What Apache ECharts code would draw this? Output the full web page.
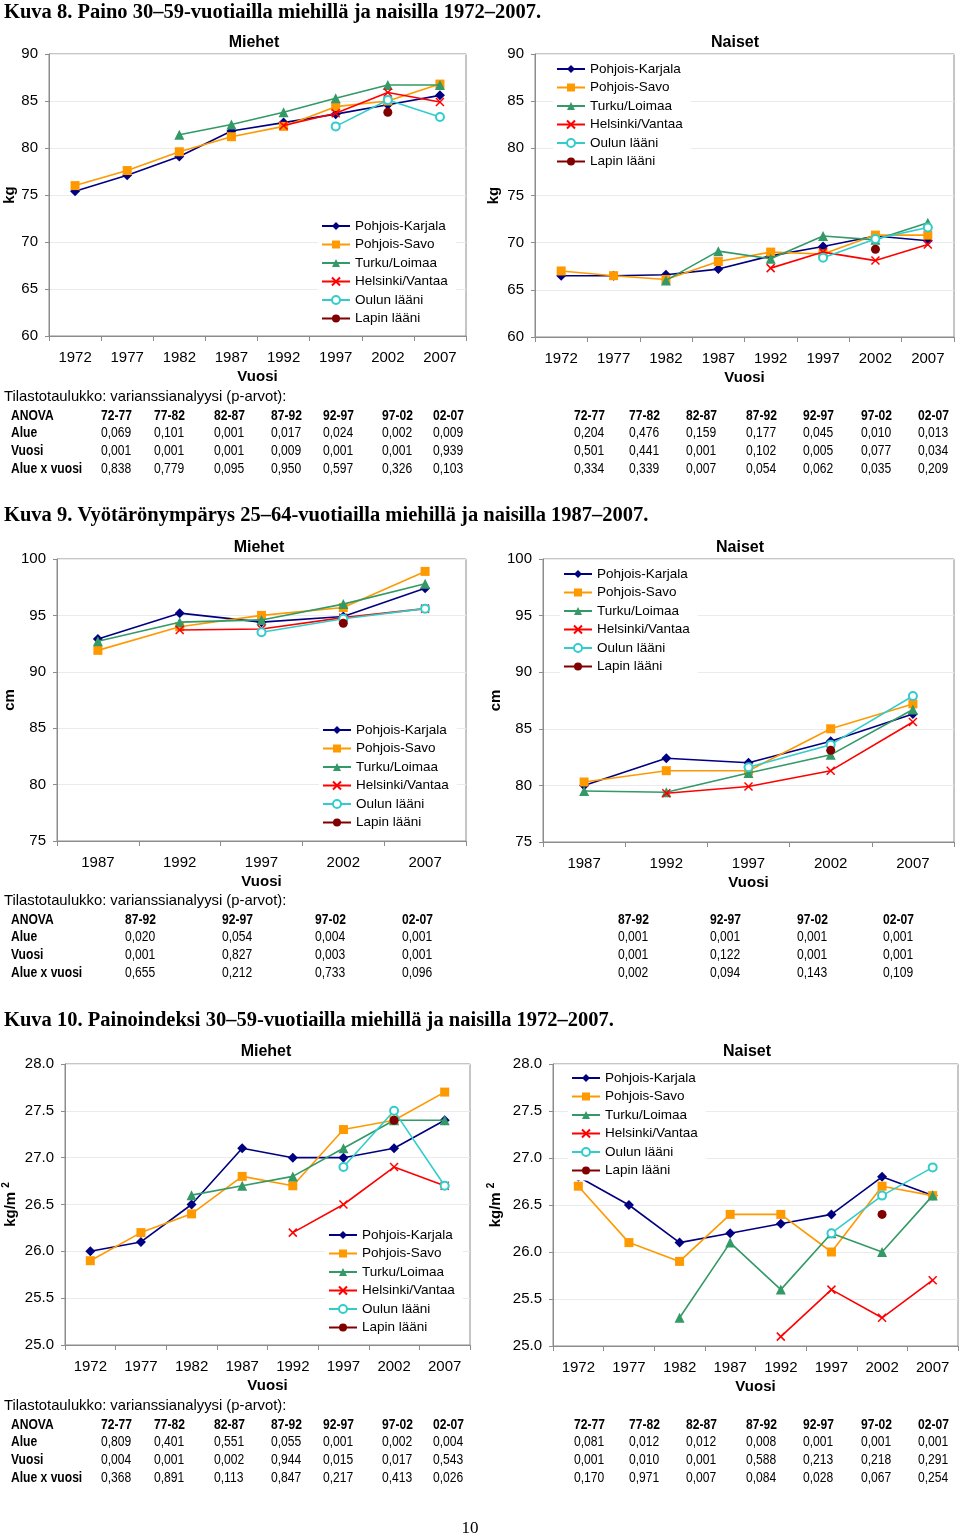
<!DOCTYPE html>
<html>
<head>
<meta charset="utf-8">
<script src="https://cdn.jsdelivr.net/npm/echarts@6/dist/echarts.min.js"></script>
<style>
html,body{margin:0;padding:0;background:#fff;}
#c{width:960px;height:1537px;}
</style>
</head>
<body>
<div id="c"></div>
<script>
// ---------- categories ----------
const years72 = ['1972','1977','1982','1987','1992','1997','2002','2007'];
const years87 = ['1987','1992','1997','2002','2007'];
const regions = ['Pohjois-Karjala','Pohjois-Savo','Turku/Loimaa','Helsinki/Vantaa','Oulun lääni','Lapin lääni'];

// ---------- Kuva 8: paino (kg) ----------
const weightMenPK = [75.4,77.1,79.1,81.8,82.7,83.6,84.6,85.6];
const weightMenPS = [76.0,77.6,79.6,81.2,82.3,84.4,85.0,86.8];
const weightMenTL = [null,null,81.4,82.5,83.8,85.3,86.7,86.7];
const weightMenHV = [null,null,null,null,82.4,83.7,85.9,84.9];
const weightMenOL = [null,null,null,null,null,82.3,85.1,83.3];
const weightMenLL = [null,null,null,null,null,null,83.8,null];

const weightWomenPK = [66.5,66.5,66.6,67.2,68.6,69.6,70.7,70.2];
const weightWomenPS = [67.0,66.5,66.1,68.0,69.0,68.8,70.8,70.8];
const weightWomenTL = [null,null,66.0,69.1,68.3,70.7,70.3,72.1];
const weightWomenHV = [null,null,null,null,67.3,69.0,68.1,69.8];
const weightWomenOL = [null,null,null,null,null,68.4,70.4,71.6];
const weightWomenLL = [null,null,null,null,null,null,69.3,null];

// ---------- Kuva 9: vyötärönympärys (cm) ----------
const waistMenPK = [92.9,95.2,94.4,94.9,97.4];
const waistMenPS = [91.9,94.0,95.0,95.7,98.9];
const waistMenTL = [92.7,94.4,94.6,96.0,97.8];
const waistMenHV = [null,93.7,93.8,94.8,95.6];
const waistMenOL = [null,null,93.5,94.7,95.6];
const waistMenLL = [null,null,null,94.3,null];

const waistWomenPK = [80.0,82.4,82.0,83.9,86.3];
const waistWomenPS = [80.3,81.3,81.3,85.0,87.2];
const waistWomenTL = [79.5,79.4,81.1,82.7,86.7];
const waistWomenHV = [null,79.3,79.9,81.3,85.6];
const waistWomenOL = [null,null,81.6,83.6,87.9];
const waistWomenLL = [null,null,null,83.1,null];

// ---------- Kuva 10: painoindeksi (kg/m2) ----------
const bmiMenPK = [26.0,26.1,26.5,27.1,27.0,27.0,27.1,27.4];
const bmiMenPS = [25.9,26.2,26.4,26.8,26.7,27.3,27.4,27.7];
const bmiMenTL = [null,null,26.6,26.7,26.8,27.1,27.4,27.4];
const bmiMenHV = [null,null,null,null,26.2,26.5,26.9,26.7];
const bmiMenOL = [null,null,null,null,null,26.9,27.5,26.7];
const bmiMenLL = [null,null,null,null,null,null,27.4,null];

const bmiWomenPK = [26.8,26.5,26.1,26.2,26.3,26.4,26.8,26.6];
const bmiWomenPS = [26.7,26.1,25.9,26.4,26.4,26.0,26.7,26.6];
const bmiWomenTL = [null,null,25.3,26.1,25.6,26.2,26.0,26.6];
const bmiWomenHV = [null,null,null,null,25.1,25.6,25.3,25.7];
const bmiWomenOL = [null,null,null,null,null,26.2,26.6,26.9];
const bmiWomenLL = [null,null,null,null,null,null,26.4,null];

// ---------- ANOVA tables (p-arvot) ----------
const rowLabels = ['Alue','Vuosi','Alue x vuosi'];
const periods72 = ['72-77','77-82','82-87','87-92','92-97','97-02','02-07'];
const periods87 = ['87-92','92-97','97-02','02-07'];

const anova8Men = [
  ['0,069','0,101','0,001','0,017','0,024','0,002','0,009'],
  ['0,001','0,001','0,001','0,009','0,001','0,001','0,939'],
  ['0,838','0,779','0,095','0,950','0,597','0,326','0,103']];
const anova8Women = [
  ['0,204','0,476','0,159','0,177','0,045','0,010','0,013'],
  ['0,501','0,441','0,001','0,102','0,005','0,077','0,034'],
  ['0,334','0,339','0,007','0,054','0,062','0,035','0,209']];
const anova9Men = [
  ['0,020','0,054','0,004','0,001'],
  ['0,001','0,827','0,003','0,001'],
  ['0,655','0,212','0,733','0,096']];
const anova9Women = [
  ['0,001','0,001','0,001','0,001'],
  ['0,001','0,122','0,001','0,001'],
  ['0,002','0,094','0,143','0,109']];
const anova10Men = [
  ['0,809','0,401','0,551','0,055','0,001','0,002','0,004'],
  ['0,004','0,001','0,002','0,944','0,015','0,017','0,543'],
  ['0,368','0,891','0,113','0,847','0,217','0,413','0,026']];
const anova10Women = [
  ['0,081','0,012','0,012','0,008','0,001','0,001','0,001'],
  ['0,001','0,010','0,001','0,588','0,213','0,218','0,291'],
  ['0,170','0,971','0,007','0,084','0,028','0,067','0,254']];

const captions = [
  'Kuva 8. Paino 30–59-vuotiailla miehillä ja naisilla 1972–2007.',
  'Kuva 9. Vyötärönympärys 25–64-vuotiailla miehillä ja naisilla 1987–2007.',
  'Kuva 10. Painoindeksi 30–59-vuotiailla miehillä ja naisilla 1972–2007.'];

// ---------- styles ----------
const SANS = '"Liberation Sans", Arial, sans-serif';
const SERIF = '"Liberation Serif", "Times New Roman", serif';
const NARROW_SCALE = 0.78;
const colors = ['#000080','#FF9900','#339966','#FF0000','#33CCCC','#800000'];
const symbols = ['diamond','rect','triangle','path://M0,0L10,10M10,0L0,10','emptyCircle','circle'];
const symSizes = [10,9,10,8,8,9];

const panels = [
  {cats:years72, data:[weightMenPK,weightMenPS,weightMenTL,weightMenHV,weightMenOL,weightMenLL],
   min:60,max:90,interval:5,dec:0,unit:'kg',title:'Miehet',
   grid:{left:49,top:54,width:417,height:282}, nameGap:31, titleX:254, titleY:43,
   legend:{left:321,top:228}},
  {cats:years72, data:[weightWomenPK,weightWomenPS,weightWomenTL,weightWomenHV,weightWomenOL,weightWomenLL],
   min:60,max:90,interval:5,dec:0,unit:'kg',title:'Naiset',
   grid:{left:535,top:54,width:419,height:283}, nameGap:34, titleX:735, titleY:43,
   legend:{left:556,top:71}},
  {cats:years87, data:[waistMenPK,waistMenPS,waistMenTL,waistMenHV,waistMenOL,waistMenLL],
   min:75,max:100,interval:5,dec:0,unit:'cm',title:'Miehet',
   grid:{left:57,top:559,width:409,height:282}, nameGap:34, titleX:259, titleY:548,
   legend:{left:322,top:732}},
  {cats:years87, data:[waistWomenPK,waistWomenPS,waistWomenTL,waistWomenHV,waistWomenOL,waistWomenLL],
   min:75,max:100,interval:5,dec:0,unit:'cm',title:'Naiset',
   grid:{left:543,top:559,width:411,height:283}, nameGap:35, titleX:740, titleY:548,
   legend:{left:563,top:576}},
  {cats:years72, data:[bmiMenPK,bmiMenPS,bmiMenTL,bmiMenHV,bmiMenOL,bmiMenLL],
   min:25,max:28,interval:0.5,dec:1,unit:'kgm2',title:'Miehet',
   grid:{left:65,top:1064,width:405,height:281}, nameGap:44, titleX:266, titleY:1052,
   legend:{left:328,top:1237}},
  {cats:years72, data:[bmiWomenPK,bmiWomenPS,bmiWomenTL,bmiWomenHV,bmiWomenOL,bmiWomenLL],
   min:25,max:28,interval:0.5,dec:1,unit:'kgm2',title:'Naiset',
   grid:{left:553,top:1064,width:405,height:282}, nameGap:47, titleX:747, titleY:1052,
   legend:{left:571,top:1080}}
];

const grids = [], xAxes = [], yAxes = [], series = [], legends = [], graphics = [];
const LEG_PAD = 3;

panels.forEach((p, i) => {
  grids.push(Object.assign({show:true, borderColor:'#8c8c8c', borderWidth:1, backgroundColor:'transparent'}, p.grid));
  xAxes.push({
    type:'category', gridIndex:i, data:p.cats, boundaryGap:true,
    axisLine:{show:true, lineStyle:{color:'#8c8c8c', width:1}},
    axisTick:{show:true, length:5, lineStyle:{color:'#8c8c8c'}},
    axisLabel:{color:'#000', fontFamily:SANS, fontSize:15, margin:14},
    splitLine:{show:false},
    name:'Vuosi', nameLocation:'middle', nameGap:33,
    nameTextStyle:{color:'#000', fontFamily:SANS, fontSize:15, fontWeight:'bold'}
  });
  const isBmi = p.unit === 'kgm2';
  yAxes.push({
    type:'value', gridIndex:i, min:p.min, max:p.max, interval:p.interval,
    axisLine:{show:true, lineStyle:{color:'#8c8c8c', width:1}},
    axisTick:{show:true, length:4, lineStyle:{color:'#8c8c8c'}},
    axisLabel:{color:'#000', fontFamily:SANS, fontSize:15, margin:11,
      formatter: v => v.toFixed(p.dec)},
    splitLine:{show:true, lineStyle:{color:'#ebebeb', width:1}},
    name: isBmi ? 'kg/m {s|2}' : p.unit, nameLocation:'middle', nameGap:p.nameGap,
    nameTextStyle:{color:'#000', fontFamily:SANS, fontSize:15, fontWeight:'bold',
      rich:{s:{fontSize:10, fontWeight:'bold', fontFamily:SANS, verticalAlign:'top', padding:[0,0,10,0]}}}
  });
  regions.forEach((r, j) => {
    const isX = j === 3, isEmpty = j === 4;
    series.push({
      type:'line', name:r, xAxisIndex:i, yAxisIndex:i, data:p.data[j],
      symbol:symbols[j], symbolSize:symSizes[j], showAllSymbol:true, connectNulls:false,
      lineStyle:{color:colors[j], width:1.6},
      itemStyle:{color:colors[j], borderColor:colors[j],
        borderWidth: (isX || isEmpty) ? 1.5 : 0, opacity:1},
      emphasis:{disabled:true}, silent:true, z: 2 + j
    });
  });
  legends.push({
    orient:'vertical', left:p.legend.left - LEG_PAD, top:p.legend.top - 9 - LEG_PAD,
    padding:[LEG_PAD, 8, LEG_PAD, LEG_PAD], backgroundColor:'#ffffff',
    itemWidth:28, itemHeight:10, itemGap:4.5, selectedMode:false,
    textStyle:{color:'#000', fontFamily:SANS, fontSize:13.5, lineHeight:14},
    data: regions, z: 10
  });
  graphics.push({type:'text', x:p.titleX, y:p.titleY, z:20,
    style:{text:p.title, font:'bold 16px ' + SANS, fill:'#000', textAlign:'center', textVerticalAlign:'middle'}});
});

// captions
[[13, captions[0]], [516, captions[1]], [1021, captions[2]]].forEach(([y, t]) => {
  graphics.push({type:'text', x:4, y:y, style:{text:t, font:'bold 20.5px ' + SERIF, fill:'#000', textVerticalAlign:'middle'}});
});
graphics.push({type:'text', x:470, y:1529, style:{text:'10', font:'17px ' + SERIF, fill:'#000', textAlign:'center', textVerticalAlign:'middle'}});

// tables (condensed sans: Liberation Sans squeezed horizontally)
function tText(x, y, text, bold, size, sx) {
  graphics.push({type:'text', x:x, y:y, scaleX:sx,
    style:{text:text, font:(bold ? 'bold ' : '') + size + 'px ' + SANS, fill:'#000', textVerticalAlign:'middle'}});
}
function addTable(headerY, periods, leftCols, rightCols, menRows, womenRows) {
  tText(4, headerY, 'Tilastotaulukko: varianssianalyysi (p-arvot):', false, 14.8, 1);
  const rowY = [headerY + 36, headerY + 54, headerY + 72];
  tText(11, headerY + 19, 'ANOVA', true, 15.5, NARROW_SCALE);
  rowLabels.forEach((l, k) => tText(11, rowY[k], l, true, 15.5, NARROW_SCALE));
  periods.forEach((per, c) => {
    tText(leftCols[c], headerY + 19, per, true, 15.5, NARROW_SCALE);
    tText(rightCols[c], headerY + 19, per, true, 15.5, NARROW_SCALE);
    for (let k = 0; k < 3; k++) {
      tText(leftCols[c], rowY[k], menRows[k][c], false, 15.5, NARROW_SCALE);
      tText(rightCols[c], rowY[k], womenRows[k][c], false, 15.5, NARROW_SCALE);
    }
  });
}
const cols7L = [101,154,214,271,323,382,433];
const cols7R = [574,629,686,746,803,861,918];
const cols4L = [125,222,315,402];
const cols4R = [618,710,797,883];
addTable(397, periods72, cols7L, cols7R, anova8Men, anova8Women);
addTable(901, periods87, cols4L, cols4R, anova9Men, anova9Women);
addTable(1406, periods72, cols7L, cols7R, anova10Men, anova10Women);

const chart = echarts.init(document.getElementById('c'), null, {renderer:'canvas'});
chart.setOption({
  backgroundColor:'#ffffff',
  animation:false,
  grid:grids, xAxis:xAxes, yAxis:yAxes, series:series, legend:legends,
  graphic:{elements:graphics}
});
</script>
</body>
</html>
